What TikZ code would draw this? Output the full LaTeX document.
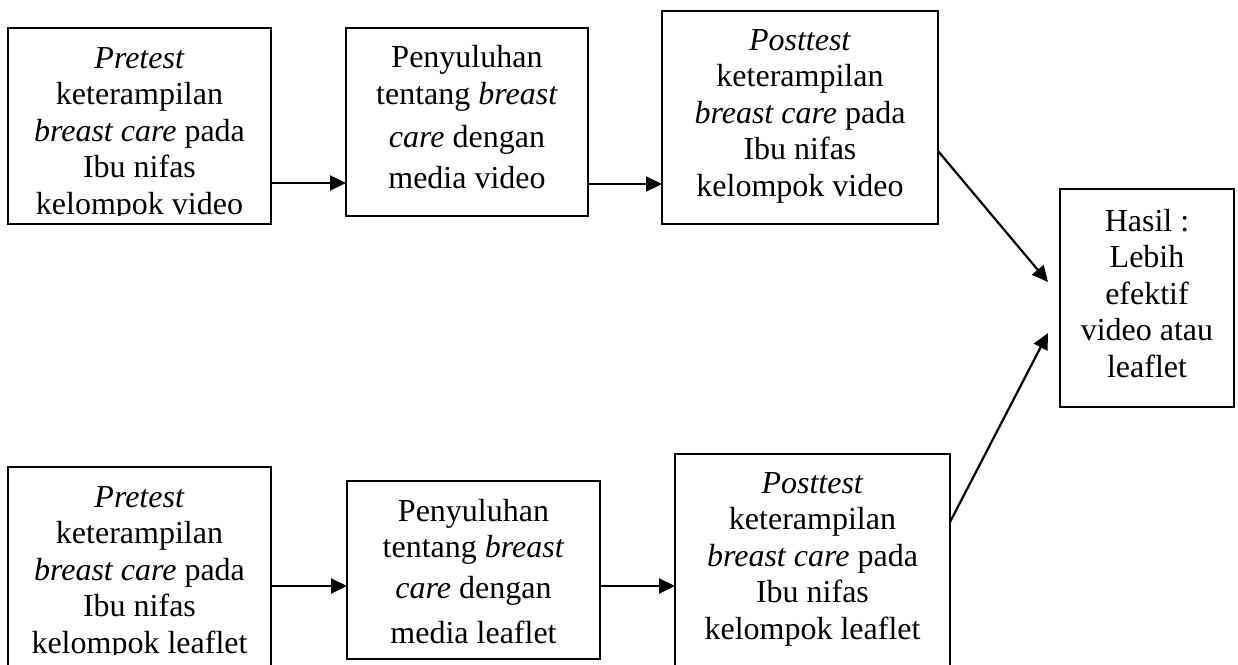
\documentclass[tikz,border=0pt]{standalone}
\usepackage{fontspec}
\setmainfont{Liberation Serif}
\usetikzlibrary{arrows.meta}
\newcommand\btext[2]{\parbox[t]{#1}{\centering\fontsize{32}{36.5}\selectfont #2}}
\tikzset{
  box/.style={draw, line width=1.5pt, inner sep=0pt, outer sep=0pt},
  txt/.style={anchor=base, inner sep=0pt, outer sep=0pt},
  arr/.style={line width=2.2pt, -{Triangle[length=16pt,width=15pt]}},
}
\begin{document}
\begin{tikzpicture}[x=1pt, y=-1pt]
\useasboundingbox (0,0) rectangle (1238,664);
\clip (0,0) rectangle (1238,664);
% boxes
\node[box, minimum width=263pt, minimum height=196pt] (b1) at (139.5,126) {};
\node[box, minimum width=242pt, minimum height=188pt] (b2) at (467,122) {};
\node[box, minimum width=276pt, minimum height=213pt] (b3) at (800,117.5) {};
\node[box, minimum width=174pt, minimum height=218pt] (b4) at (1147,298) {};
\node[box, minimum width=263pt, minimum height=203pt] (b5) at (139.5,568.5) {};
\node[box, minimum width=253pt, minimum height=178pt] (b6) at (473.5,570) {};
\node[box, minimum width=275pt, minimum height=216pt] (b7) at (812.5,562) {};
% texts
\begin{scope}
\clip (0,0) rectangle (1238,215);
\node[txt] (t1) at (139.5,68) {\btext{250pt}{\textit{Pretest}\\ keterampilan\\ \textit{breast care} pada\\ Ibu nifas\\ kelompok video}};
\end{scope}
\node[txt] (t2) at (467,67) {\btext{235pt}{Penyuluhan\\[0.5pt] tentang \textit{breast}\\[6.5pt] \textit{care} dengan\\[4.5pt] media video}};
\node[txt] (t3) at (800,50) {\btext{265pt}{\textit{Posttest}\\ keterampilan\\ \textit{breast care} pada\\ Ibu nifas\\ kelompok video}};
\node[txt] (t4) at (1147,231) {\btext{165pt}{Hasil :\\ Lebih\\ efektif\\ video atau\\ leaflet}};
\begin{scope}
\clip (0,0) rectangle (1238,654);
\node[txt] (t5) at (139.5,507) {\btext{250pt}{\textit{Pretest}\\ keterampilan\\ \textit{breast care} pada\\ Ibu nifas\\ kelompok leaflet}};
\end{scope}
\node[txt] (t6) at (473.5,521) {\btext{245pt}{Penyuluhan\\[-0.5pt] tentang \textit{breast}\\[4.5pt] \textit{care} dengan\\[8.5pt] media leaflet}};
\node[txt] (t7) at (812.5,493) {\btext{265pt}{\textit{Posttest}\\ keterampilan\\ \textit{breast care} pada\\ Ibu nifas\\ kelompok leaflet}};
% arrow levels
\coordinate (ya) at (0,183);
\coordinate (yb) at (0,184);
\coordinate (yc) at (0,586);
\coordinate (yd) at (0,151);
\coordinate (ye) at (0,522);
\coordinate (tipA) at (1048,282);
\coordinate (tipB) at (1048,333);
% connectors
\draw[arr] (b1.east |- ya) -- (b2.west |- ya);
\draw[arr] (b2.east |- yb) -- (b3.west |- yb);
\draw[arr] (b5.east |- yc) -- (b6.west |- yc);
\draw[arr] (b6.east |- yc) -- (b7.west |- yc);
\draw[arr] (b3.east |- yd) -- (tipA);
\draw[arr] (b7.east |- ye) -- (tipB);
\end{tikzpicture}
\end{document}
